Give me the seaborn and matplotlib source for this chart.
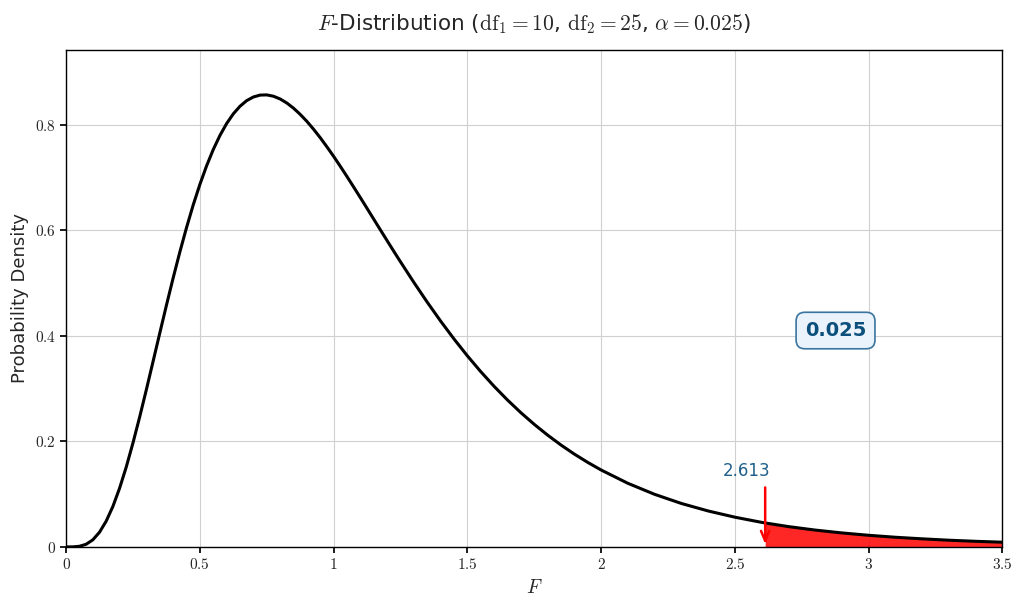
import matplotlib
matplotlib.use("Agg")
import matplotlib.pyplot as plt
import pandas as pd
import seaborn as sns
from matplotlib.ticker import FuncFormatter

# density values
f_vals = [0.0, 0.025, 0.05, 0.075, 0.1, 0.125, 0.15, 0.175, 0.2, 0.225, 0.25,
          0.275, 0.3, 0.325, 0.35, 0.375, 0.4, 0.425, 0.45, 0.475, 0.5,
          0.525, 0.55, 0.575, 0.6, 0.625, 0.65, 0.675, 0.7, 0.725, 0.75,
          0.775, 0.8, 0.825, 0.85, 0.875, 0.9, 0.925, 0.95, 0.975, 1.0,
          1.025, 1.05, 1.075, 1.1, 1.125, 1.15, 1.175, 1.2, 1.225, 1.25,
          1.3, 1.35, 1.4, 1.45, 1.5, 1.55, 1.6, 1.65, 1.7, 1.75, 1.8, 1.85,
          1.9, 1.95, 2.0, 2.1, 2.2, 2.3, 2.4, 2.5, 2.6, 2.613, 2.7, 2.8, 2.9,
          3.0, 3.1, 3.2, 3.3, 3.4, 3.5]
density = [0.0, 0.0001, 0.0012, 0.0050, 0.0134, 0.0278, 0.0488, 0.0766,
           0.1111, 0.1514, 0.1968, 0.2459, 0.2976, 0.3509, 0.4045, 0.4575,
           0.5090, 0.5582, 0.6045, 0.6475, 0.6866, 0.7217, 0.7527, 0.7795,
           0.8021, 0.8205, 0.8349, 0.8456, 0.8525, 0.8561, 0.8565, 0.8540,
           0.8488, 0.8412, 0.8314, 0.8197, 0.8064, 0.7915, 0.7754, 0.7581,
           0.7401, 0.7212, 0.7018, 0.6819, 0.6618, 0.6415, 0.6210, 0.6006,
           0.5803, 0.5601, 0.5402, 0.5012, 0.4637, 0.4279, 0.3940, 0.3620,
           0.3321, 0.3042, 0.2783, 0.2543, 0.2322, 0.2118, 0.1930, 0.1758,
           0.1601, 0.1457, 0.1205, 0.0996, 0.0823, 0.0681, 0.0563, 0.0465,
           0.0454, 0.0385, 0.0319, 0.0265, 0.0220, 0.0183, 0.0153, 0.0127,
           0.0106, 0.0089]

alpha = 0.025
f_crit = 2.613

data = pd.DataFrame({"F": f_vals, "density": density})

sns.set_theme(style="ticks")
plt.rcParams["mathtext.fontset"] = "cm"
plt.rcParams["font.family"] = ["DejaVu Sans"]

fig, ax = plt.subplots(figsize=(10.24, 6.06), dpi=100)
fig.subplots_adjust(left=0.0645, right=0.979, top=0.918, bottom=0.0975)

sns.lineplot(data=data, x="F", y="density", color="black", linewidth=2.2, ax=ax,
             solid_joinstyle="round")

tail = data[data["F"] >= f_crit]
ax.fill_between(tail["F"], 0, tail["density"], color="#ff0000", alpha=0.85,
                linewidth=0, zorder=1)

ymax = max(density) * 1.1
ax.annotate("", xy=(f_crit, 0), xytext=(f_crit, 0.118),
            arrowprops=dict(arrowstyle="->,head_width=0.25,head_length=0.6",
                            color="red", lw=1.8))
ax.text(f_crit - 0.07, 0.143, f"{f_crit:.3f}", color="#1f5f8b", fontsize=12,
        ha="center", va="center")
ax.text(2.876, 0.41, f"{alpha}", color="#0b4f7c", fontsize=14, fontweight="bold",
        ha="center", va="center",
        bbox=dict(boxstyle="round,pad=0.45", facecolor="#eaf3fc",
                  edgecolor="#3a74a0", linewidth=1.2))

ax.set_xlim(0, 3.5)
ax.set_ylim(0, ymax)
ax.set_xticks([0, 0.5, 1, 1.5, 2, 2.5, 3, 3.5])
ax.set_yticks([0, 0.2, 0.4, 0.6, 0.8])
fmt = FuncFormatter(lambda v, _: f"${v:g}$")
ax.xaxis.set_major_formatter(fmt)
ax.yaxis.set_major_formatter(fmt)
ax.tick_params(labelsize=11, direction="out", length=4, color="black")
ax.grid(True, color="#d0d0d0", linewidth=0.8)
ax.set_axisbelow(True)
for s in ax.spines.values():
    s.set_color("black")
    s.set_linewidth(1.0)

ax.set_xlabel("$F$", fontsize=14)
ax.set_ylabel("Probability Density", fontsize=13)
ax.set_title(r"$F$-Distribution ($\mathrm{df}_1 = 10$, $\mathrm{df}_2 = 25$, $\alpha = 0.025$)",
             fontsize=15.5, pad=14)

fig.savefig("out.png", dpi=100, facecolor="white")
